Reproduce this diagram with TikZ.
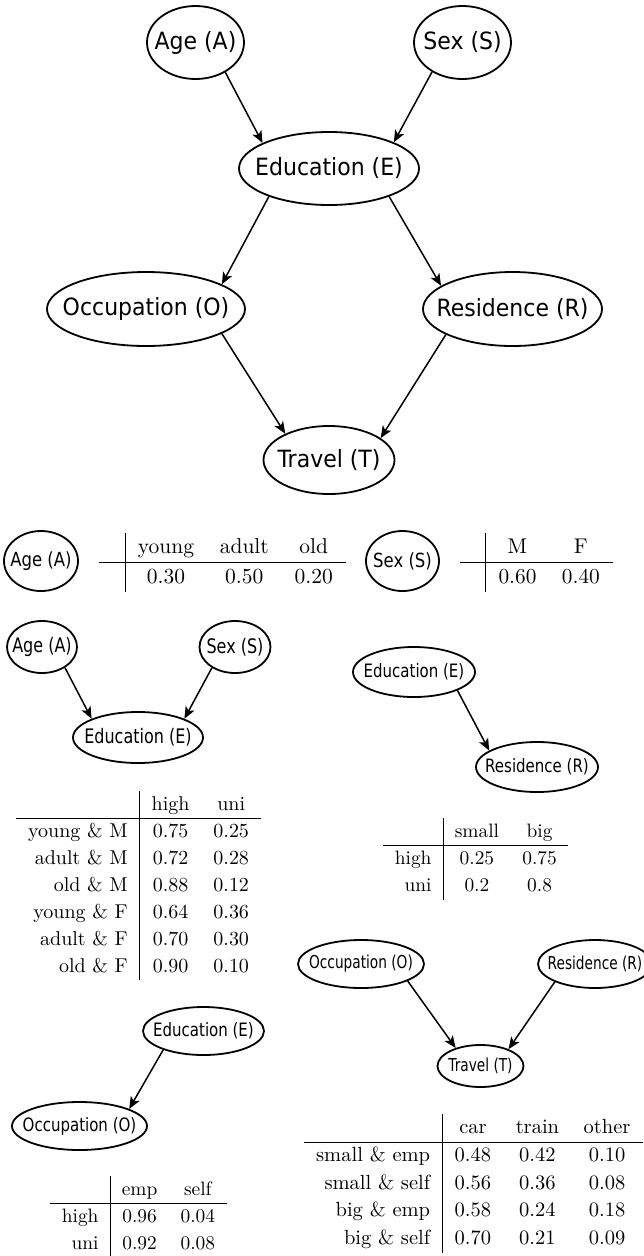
\documentclass[tikz,border=0pt]{standalone}
\usepackage{fontspec}
\usepackage{graphicx}
\usetikzlibrary{arrows.meta,shapes.geometric}
\newfontfamily\nodefont{DejaVu Sans}
\newcommand\nf[1]{\fontsize{#1}{#1}\selectfont\nodefont}
\newcommand\vst{1}
\newcommand\lbl[1]{\makebox[0pt]{\scalebox{1}[\vst]{#1}}}
% scale, row stretch, table
\newcommand\cptbox[3]{\scalebox{#1}{\renewcommand\arraystretch{#2}#3}}
\tikzset{
  var/.style n args={4}{ellipse, draw, line width=1.8pt, inner sep=0pt,
    minimum width=#1, minimum height=#2, font=\nf{#3},
    execute at begin node={\renewcommand\vst{#4}}},
  dep/.style={-{Stealth[length=12pt,width=10pt,inset=3pt]}, line width=1.5pt},
  cpt/.style={inner sep=0pt}
}
\begin{document}
\begin{tikzpicture}[x=1pt, y=-1pt]
  \useasboundingbox (0,0) rectangle (644,1256);
  % full network
  \node[var={97pt}{73pt}{22}{1.08}] (age) at (195.5,42.5) {\lbl{Age (A)}};
  \node[var={97pt}{73pt}{22}{1.08}] (sex) at (462.5,42.5) {\lbl{Sex (S)}};
  \node[var={180pt}{73pt}{22}{1.08}] (edu) at (329,168.5) {\lbl{Education (E)}};
  \node[var={198pt}{74pt}{22}{1.08}] (occ) at (146,309) {\lbl{Occupation (O)}};
  \node[var={179pt}{74pt}{22}{1.08}] (res) at (512.5,309) {\lbl{Residence (R)}};
  \node[var={131pt}{68pt}{22}{1.08}] (trv) at (329,460) {\lbl{Travel (T)}};
  \draw[dep] (age.-45) -- (edu.159.5);
  \draw[dep] (sex.224) -- (edu.22);
  \draw[dep] (edu.205) -- (occ.18.6);
  \draw[dep] (edu.335.5) -- (res.162);
  \draw[dep] (occ.342) -- (trv.149);
  \draw[dep] (res.201) -- (trv.23.5);

  % A and S
  \node[var={74pt}{60pt}{16.5}{1.18}] (ageB) at (41,561) {\lbl{Age (A)}};
  \node[cpt, anchor=north west] (cptA) at (99,533) {\cptbox{2.15}{1.13}{%
    \begin{tabular}{c|ccc}
    & young & adult & old \\ \hline
    & 0.30 & 0.50 & 0.20
  \end{tabular}}};
  \node[var={73pt}{60pt}{16.5}{1.18}] (sexB) at (402.5,561) {\lbl{Sex (S)}};
  \node[cpt, anchor=north west] (cptS) at (460,533) {\cptbox{2.13}{1.14}{%
    \begin{tabular}{c|cc}
    & M & F \\ \hline
    & 0.60 & 0.40
  \end{tabular}}};

  % E given A, S
  \node[var={70pt}{52pt}{16}{1.25}] (ageC) at (42,647) {\lbl{Age (A)}};
  \node[var={71pt}{52pt}{16}{1.25}] (sexC) at (235,647) {\lbl{Sex (S)}};
  \node[var={130pt}{51pt}{16}{1.25}] (eduC) at (138,737.5) {\lbl{Education (E)}};
  \draw[dep] (ageC.-42) -- (eduC.158);
  \draw[dep] (sexC.222) -- (eduC.22);
  \node[cpt, anchor=north west] (cptE) at (16,791) {\cptbox{2.0}{1.12}{%
    \begin{tabular}{r|cc}
    & high & uni \\ \hline
    young \& M & 0.75 & 0.25 \\
    adult \& M & 0.72 & 0.28 \\
    old \& M & 0.88 & 0.12 \\
    young \& F & 0.64 & 0.36 \\
    adult \& F & 0.70 & 0.30 \\
    old \& F & 0.90 & 0.10
  \end{tabular}}};

  % R given E
  \node[var={122pt}{50pt}{15}{1.23}] (eduD) at (414,672) {\lbl{Education (E)}};
  \node[var={122pt}{50pt}{15}{1.23}] (resD) at (537,767) {\lbl{Residence (R)}};
  \draw[dep] (eduD.-23.7) -- (resD.161);
  \node[cpt, anchor=north west] (cptR) at (383,818) {\cptbox{1.94}{1.16}{%
    \begin{tabular}{r|cc}
    & small & big \\ \hline
    high & 0.25 & 0.75 \\
    uni & 0.2 & 0.8
  \end{tabular}}};

  % O given E
  \node[var={121pt}{48pt}{15}{1.23}] (eduF) at (203.5,1031) {\lbl{Education (E)}};
  \node[var={135pt}{48pt}{15}{1.23}] (occF) at (79.5,1126) {\lbl{Occupation (O)}};
  \draw[dep] (eduF.205) -- (occF.19);
  \node[cpt, anchor=north west] (cptO) at (50,1176) {\cptbox{1.94}{1.16}{%
    \begin{tabular}{r|cc}
    & emp & self \\ \hline
    high & 0.96 & 0.04 \\
    uni & 0.92 & 0.08
  \end{tabular}}};

  % T given O, R
  \node[var={126pt}{48pt}{13.7}{1.3}] (occG) at (361,964) {\lbl{Occupation (O)}};
  \node[var={114pt}{48pt}{13.7}{1.3}] (resG) at (595,964) {\lbl{Residence (R)}};
  \node[var={86pt}{42pt}{13.7}{1.3}] (trvG) at (480.5,1066) {\lbl{Travel (T)}};
  \draw[dep] (occG.-20) -- (trvG.144);
  \draw[dep] (resG.204) -- (trvG.31.5);
  \node[cpt, anchor=north east] (cptT) at (643,1114) {\cptbox{2.05}{1.12}{%
    \begin{tabular}{r|ccc}
    & car & train & other \\ \hline
    small \& emp & 0.48 & 0.42 & 0.10 \\
    small \& self & 0.56 & 0.36 & 0.08 \\
    big \& emp & 0.58 & 0.24 & 0.18 \\
    big \& self & 0.70 & 0.21 & 0.09
  \end{tabular}}};
\end{tikzpicture}
\end{document}
